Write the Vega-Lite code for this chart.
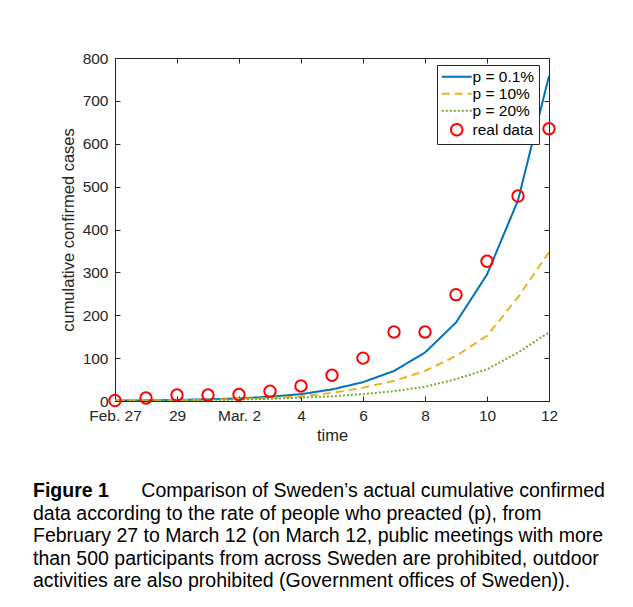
{
  "$schema": "https://vega.github.io/schema/vega-lite/v6.json",
  "autosize": "none",
  "width": 434,
  "height": 343,
  "padding": {"left": 115, "top": 58, "right": 84, "bottom": 206},
  "background": "white",
  "config": {
    "font": "Liberation Sans",
    "view": {"stroke": null},
    "axis": {
      "domainColor": "#262626",
      "tickColor": "#262626",
      "labelColor": "#262626",
      "titleColor": "#262626",
      "labelFont": "Liberation Sans",
      "titleFont": "Liberation Sans",
      "labelFontSize": 15.5,
      "titleFontSize": 16.5,
      "titleFontWeight": "normal",
      "tickSize": -5,
      "grid": false,
      "domainWidth": 1
    },
    "legend": {
      "labelFont": "Liberation Sans",
      "labelFontSize": 15.5,
      "labelColor": "#000000",
      "strokeColor": "#262626",
      "fillColor": "white",
      "padding": 4,
      "rowPadding": 0,
      "symbolOffset": 8,
      "labelOffset": 8,
      "symbolStrokeWidth": 2,
      "symbolOpacity": 1
    }
  },
  "title": {
    "text": "Figure 1",
    "orient": "bottom",
    "anchor": "start",
    "frame": "group",
    "dx": -82,
    "offset": 38,
    "font": "Liberation Sans",
    "fontSize": 19.5,
    "fontWeight": "bold",
    "color": "#000000",
    "subtitle": [
      "\u200b\u00a0\u00a0\u00a0\u00a0\u00a0\u00a0\u00a0\u00a0\u00a0\u00a0\u00a0\u00a0\u00a0\u00a0\u00a0\u00a0\u00a0\u00a0\u00a0\u00a0Comparison of Sweden’s actual cumulative confirmed",
      "data according to the rate of people who preacted (p), from",
      "February 27 to March 12 (on March 12, public meetings with more",
      "than 500 participants from across Sweden are prohibited, outdoor",
      "activities are also prohibited (Government offices of Sweden))."
    ],
    "subtitleFont": "Liberation Sans",
    "subtitleFontSize": 19.5,
    "subtitleColor": "#000000",
    "subtitleLineHeight": 22.6,
    "subtitlePadding": -19.5
  },
  "data": {
    "values": [
      {"day": 0, "series": "p = 0.1%", "cases": 1},
      {"day": 1, "series": "p = 0.1%", "cases": 1.5},
      {"day": 2, "series": "p = 0.1%", "cases": 2.5},
      {"day": 3, "series": "p = 0.1%", "cases": 4},
      {"day": 4, "series": "p = 0.1%", "cases": 6},
      {"day": 5, "series": "p = 0.1%", "cases": 10},
      {"day": 6, "series": "p = 0.1%", "cases": 16},
      {"day": 7, "series": "p = 0.1%", "cases": 27},
      {"day": 8, "series": "p = 0.1%", "cases": 44},
      {"day": 9, "series": "p = 0.1%", "cases": 70},
      {"day": 10, "series": "p = 0.1%", "cases": 113},
      {"day": 11, "series": "p = 0.1%", "cases": 183},
      {"day": 12, "series": "p = 0.1%", "cases": 295},
      {"day": 13, "series": "p = 0.1%", "cases": 468},
      {"day": 14, "series": "p = 0.1%", "cases": 758},
      {"day": 0, "series": "p = 10%", "cases": 1},
      {"day": 1, "series": "p = 10%", "cases": 1.4},
      {"day": 2, "series": "p = 10%", "cases": 2},
      {"day": 3, "series": "p = 10%", "cases": 3},
      {"day": 4, "series": "p = 10%", "cases": 4.5},
      {"day": 5, "series": "p = 10%", "cases": 7},
      {"day": 6, "series": "p = 10%", "cases": 11},
      {"day": 7, "series": "p = 10%", "cases": 19},
      {"day": 8, "series": "p = 10%", "cases": 31},
      {"day": 9, "series": "p = 10%", "cases": 47},
      {"day": 10, "series": "p = 10%", "cases": 70},
      {"day": 11, "series": "p = 10%", "cases": 105},
      {"day": 12, "series": "p = 10%", "cases": 152},
      {"day": 13, "series": "p = 10%", "cases": 242},
      {"day": 14, "series": "p = 10%", "cases": 347},
      {"day": 0, "series": "p = 20%", "cases": 1},
      {"day": 1, "series": "p = 20%", "cases": 1.3},
      {"day": 2, "series": "p = 20%", "cases": 1.8},
      {"day": 3, "series": "p = 20%", "cases": 2.5},
      {"day": 4, "series": "p = 20%", "cases": 3.5},
      {"day": 5, "series": "p = 20%", "cases": 5},
      {"day": 6, "series": "p = 20%", "cases": 8},
      {"day": 7, "series": "p = 20%", "cases": 11},
      {"day": 8, "series": "p = 20%", "cases": 16},
      {"day": 9, "series": "p = 20%", "cases": 23},
      {"day": 10, "series": "p = 20%", "cases": 33},
      {"day": 11, "series": "p = 20%", "cases": 51},
      {"day": 12, "series": "p = 20%", "cases": 74},
      {"day": 13, "series": "p = 20%", "cases": 113},
      {"day": 14, "series": "p = 20%", "cases": 160},
      {"day": 0, "series": "real data", "cases": 1},
      {"day": 1, "series": "real data", "cases": 7},
      {"day": 2, "series": "real data", "cases": 14},
      {"day": 3, "series": "real data", "cases": 14},
      {"day": 4, "series": "real data", "cases": 15},
      {"day": 5, "series": "real data", "cases": 23},
      {"day": 6, "series": "real data", "cases": 35},
      {"day": 7, "series": "real data", "cases": 60},
      {"day": 8, "series": "real data", "cases": 100},
      {"day": 9, "series": "real data", "cases": 161},
      {"day": 10, "series": "real data", "cases": 161},
      {"day": 11, "series": "real data", "cases": 248},
      {"day": 12, "series": "real data", "cases": 326},
      {"day": 13, "series": "real data", "cases": 478},
      {"day": 14, "series": "real data", "cases": 635}
    ]
  },
  "layer": [
    {
      "transform": [{"filter": "datum.series !== 'real data'"}],
      "mark": {"type": "line", "strokeWidth": 2, "clip": true},
      "encoding": {
        "x": {
          "field": "day", "type": "quantitative",
          "scale": {"domain": [0, 14], "nice": false, "zero": false},
          "axis": {
            "orient": "bottom", "title": "time",
            "values": [0, 2, 4, 6, 8, 10, 12, 14],
            "labelExpr": "datum.value == 0 ? 'Feb. 27' : datum.value == 2 ? '29' : datum.value == 4 ? 'Mar. 2' : toString(datum.value - 2)",
            "labelPadding": 12,
            "titlePadding": 4,
            "labelFlush": false,
            "labelOverlap": false
          }
        },
        "y": {
          "field": "cases", "type": "quantitative",
          "scale": {"domain": [0, 800], "nice": false},
          "axis": {
            "orient": "left", "title": "cumulative confirmed cases",
            "values": [0, 100, 200, 300, 400, 500, 600, 700, 800],
            "labelPadding": 12,
            "titlePadding": 6
          }
        },
        "color": {
          "field": "series", "type": "nominal",
          "scale": {"domain": ["p = 0.1%", "p = 10%", "p = 20%", "real data"], "range": ["#0072BD", "#EDB120", "#77AC30", "#FF0000"]},
          "legend": {"title": null, "orient": "none", "legendX": 322, "legendY": 7}
        },
        "strokeDash": {
          "field": "series", "type": "nominal",
          "scale": {"domain": ["p = 0.1%", "p = 10%", "p = 20%", "real data"], "range": [[1, 0], [8, 5], [2, 2], [1, 0]]},
          "legend": {"title": null, "orient": "none", "legendX": 322, "legendY": 7}
        }
      }
    },
    {
      "transform": [{"filter": "datum.series === 'real data'"}],
      "mark": {"type": "point", "filled": false, "strokeWidth": 2, "opacity": 1},
      "encoding": {
        "x": {
          "field": "day", "type": "quantitative",
          "axis": {"orient": "top", "title": null, "labels": false, "values": [0, 2, 4, 6, 8, 10, 12, 14]}
        },
        "y": {
          "field": "cases", "type": "quantitative",
          "axis": {"orient": "right", "title": null, "labels": false, "values": [0, 100, 200, 300, 400, 500, 600, 700, 800]}
        },
        "color": {"field": "series", "type": "nominal"},
        "shape": {
          "field": "series", "type": "nominal",
          "scale": {"domain": ["p = 0.1%", "p = 10%", "p = 20%", "real data"], "range": ["M-2.5,0H2.5", "M-2.5,0H2.5", "M-2.5,0H2.5", "circle"]},
          "legend": {"title": null, "orient": "none", "legendX": 322, "legendY": 7}
        },
        "size": {
          "field": "series", "type": "nominal",
          "scale": {"type": "ordinal", "domain": ["p = 0.1%", "p = 10%", "p = 20%", "real data"], "range": [144, 144, 144, 130]},
          "legend": {"title": null, "orient": "none", "legendX": 322, "legendY": 7}
        }
      }
    }
  ],
  "resolve": {"axis": {"x": "independent", "y": "independent"}}
}
